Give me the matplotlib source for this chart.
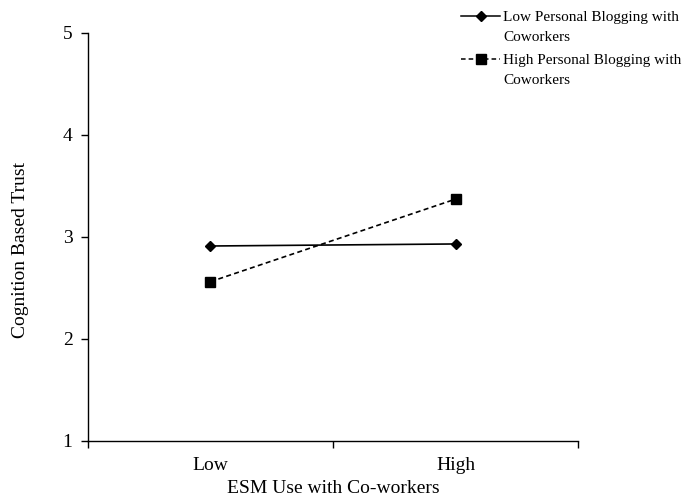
import matplotlib.pyplot as plt
from matplotlib.lines import Line2D

plt.rcParams['font.family'] = ['Liberation Serif', 'DejaVu Serif']

categorias = ["Low", "High"]
baixo_blog = [2.91, 2.93]
alto_blog = [2.56, 3.37]
rotulos = ["Low Personal Blogging with\nCoworkers", "High Personal Blogging with\nCoworkers"]
y_ticks = [1, 2, 3, 4, 5]

fig = plt.figure(figsize=(6.86, 4.97), dpi=100)
ax = fig.add_axes([0.128, 0.113, 0.715, 0.821])

x = list(range(len(categorias)))
ax.plot(x, baixo_blog, color="black", lw=1.2, marker="D", markersize=5.5)
ax.plot(x, alto_blog, color="black", lw=1.2, ls=(0, (3, 2)), marker="s", markersize=7)

ax.set_xlim(-0.5, len(categorias) - 0.5)
ax.set_ylim(1, 5)
ax.set_yticks(y_ticks)
ax.set_xticks([i - 0.5 for i in range(len(categorias) + 1)])
ax.set_xticklabels([])
ax.set_xticks(x, minor=True)
ax.set_xticklabels(categorias, minor=True)
ax.tick_params(axis="x", which="minor", length=0, labelsize=14, pad=11.5)
ax.tick_params(axis="x", which="major", direction="out", length=5, width=1)
ax.tick_params(axis="y", direction="out", length=5, width=1, labelsize=14, pad=6)

for lado in ["top", "right"]:
    ax.spines[lado].set_visible(False)
for lado in ["left", "bottom"]:
    ax.spines[lado].set_linewidth(1)

ax.set_xlabel("ESM Use with Co-workers", fontsize=14, labelpad=4.5)
ax.set_ylabel("Cognition Based Trust", fontsize=14, labelpad=24, y=0.468)

# legenda manual (marcador alinhado com a primeira linha)
estilos = [
    dict(ls="-", marker="D", markersize=5),
    dict(ls=(0, (3, 2)), marker="s", markersize=7),
]
x0, x1 = 461 / 686, 500 / 686
ys = [1 - 16 / 497, 1 - 59 / 497]
for rotulo, estilo, yy in zip(rotulos, estilos, ys):
    linha = Line2D([x0, (x0 + x1) / 2, x1], [yy, yy, yy], transform=fig.transFigure,
                   color="black", lw=1.1, markevery=[1], **estilo)
    fig.add_artist(linha)
    fig.text(503 / 686, yy + 0.01, rotulo, ha="left", va="top", fontsize=11,
             linespacing=1.65)

fig.savefig("out.png", dpi=100)
